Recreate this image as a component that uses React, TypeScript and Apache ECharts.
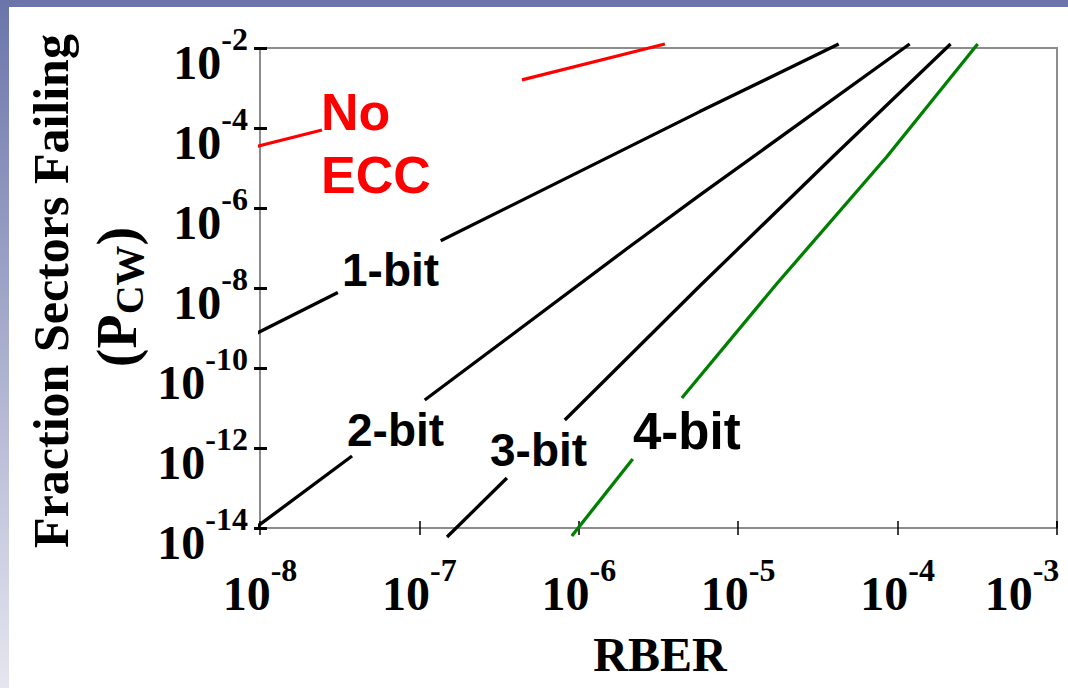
import React, { useEffect, useRef } from "react";
import * as echarts from "echarts";

// RBER (x) vs fraction of sectors failing (y)
const xTickValues = [1e-8, 1e-7, 1e-6, 1e-5, 1e-4, 1e-3];
const yTickValues = [1e-14, 1e-12, 1e-10, 1e-8, 1e-6, 1e-4, 1e-2];

// each curve is drawn in two pieces, broken where its label sits
const noEccLow = [[9.16e-9, 3.33e-5], [2.45e-8, 8.9e-5]];
const noEccHigh = [[4.4e-7, 1.6e-3], [3.47e-6, 1.26e-2]];

const oneBitLow = [[9.04e-9, 6.6e-10], [3.08e-8, 7.76e-9]];
const oneBitHigh = [[1.36e-7, 1.51e-7], [5.74e-6, 2.57e-4], [4.27e-5, 1.26e-2]];

const twoBitLow = [[9.33e-9, 1.0e-14], [3.78e-8, 6.31e-13]];
const twoBitHigh = [[1.08e-7, 1.58e-11], [2.03e-6, 1.0e-7], [5.74e-6, 2.09e-6], [1.19e-4, 1.26e-2]];

const threeBitLow = [[1.49e-7, 5.96e-15], [3.54e-7, 1.78e-13]];
const threeBitHigh = [[8.17e-7, 5.01e-12], [5.74e-6, 1.12e-8], [3.91e-5, 1.88e-5], [2.15e-4, 1.26e-2]];

const fourBitLow = [[9.04e-7, 6.31e-15], [2.18e-6, 5.31e-13]];
const fourBitHigh = [[4.43e-6, 1.78e-11], [1.74e-5, 1.26e-8], [8.53e-5, 1.88e-5], [3.18e-4, 1.26e-2]];

const curves = [
  { name: "No ECC", color: "#ff0000", pieces: [noEccLow, noEccHigh] },
  { name: "1-bit", color: "#000000", pieces: [oneBitLow, oneBitHigh] },
  { name: "2-bit", color: "#000000", pieces: [twoBitLow, twoBitHigh] },
  { name: "3-bit", color: "#000000", pieces: [threeBitLow, threeBitHigh] },
  { name: "4-bit", color: "#008000", pieces: [fourBitLow, fourBitHigh] },
];

const SERIF = "'Liberation Serif', 'Times New Roman', serif";
const SANS = "'Liberation Sans', Arial, sans-serif";

const expOf = (v: number) => Math.round(Math.log10(v));

const richLabel = {
  b: { fontFamily: SERIF, fontWeight: "bold", fontSize: 48, lineHeight: 63, verticalAlign: "bottom", color: "#000" },
  s: { fontFamily: SERIF, fontWeight: "bold", fontSize: 32, lineHeight: 32, verticalAlign: "top", color: "#000" },
  p: { width: 70, fontSize: 10, lineHeight: 10 },
};

export default function App() {
  const ref = useRef<HTMLDivElement>(null);
  useEffect(() => {
    if (!ref.current) return;
    const chart = echarts.init(ref.current, undefined, { renderer: "svg" });
    const series: any[] = [];
    curves.forEach((c) => {
      c.pieces.forEach((piece, i) => {
        series.push({
          name: c.name,
          id: c.name + "-" + i,
          type: "line",
          xAxisIndex: 0,
          yAxisIndex: 0,
          data: piece,
          showSymbol: false,
          symbol: "none",
          clip: false,
          smooth: false,
          lineStyle: { color: c.color, width: 3.3 },
          z: 5,
        });
      });
    });
    const lastX = xTickValues[xTickValues.length - 1];
    const baseX = {
      type: "log",
      logBase: 10,
      min: xTickValues[0],
      max: lastX,
      interval: 1,
      position: "bottom",
      splitLine: { show: false },
      minorTick: { show: false },
    };
    const baseY = {
      type: "log",
      logBase: 10,
      min: yTickValues[0],
      max: yTickValues[yTickValues.length - 1],
      interval: 2,
      position: "left",
      splitLine: { show: false },
      minorTick: { show: false },
    };
    chart.setOption({
      animation: false,
      backgroundColor: "#ffffff",
      grid: {
        left: 260,
        right: 11,
        top: 48,
        bottom: 160,
        show: true,
        borderColor: "#8c8c8c",
        borderWidth: 2,
        backgroundColor: "transparent",
        containLabel: false,
        outerBoundsMode: "none",
      },
      xAxis: [
        {
          ...baseX,
          axisLine: { show: true, lineStyle: { color: "#8c8c8c", width: 2 } },
          axisTick: { show: true, inside: false, length: 7, lineStyle: { color: "#000", width: 1.5 } },
          axisLabel: {
            show: true,
            margin: 26,
            showMinLabel: true,
            showMaxLabel: true,
            hideOverlap: false,
            formatter: (v: number) =>
              v >= lastX * 0.99 ? `{b|10}{s|${expOf(v)}}{p| }` : `{b|10}{s|${expOf(v)}}`,
            rich: richLabel,
          },
        },
        {
          ...baseX,
          axisLine: { show: false },
          axisTick: { show: true, inside: true, length: 7, lineStyle: { color: "#000", width: 1.5 } },
          axisLabel: { show: false },
        },
      ],
      yAxis: [
        {
          ...baseY,
          axisLine: { show: true, lineStyle: { color: "#8c8c8c", width: 2 } },
          axisTick: { show: true, inside: false, length: 6, lineStyle: { color: "#000", width: 3 } },
          axisLabel: {
            show: true,
            margin: 12,
            align: "right",
            verticalAlign: "middle",
            padding: [13, 0, 0, 0],
            showMinLabel: true,
            showMaxLabel: true,
            hideOverlap: false,
            formatter: (v: number) => `{b|10}{s|${expOf(v)}}`,
            rich: richLabel,
          },
        },
        {
          ...baseY,
          axisLine: { show: false },
          axisTick: { show: true, inside: true, length: 7, lineStyle: { color: "#000", width: 3 } },
          axisLabel: { show: false },
        },
      ],
      series,
      graphic: [
        {
          type: "rect",
          left: 0,
          top: 0,
          shape: { width: 1068, height: 7 },
          style: { fill: "#6b75aa" },
          silent: true,
          z: 100,
        },
        {
          type: "rect",
          left: 0,
          top: 0,
          shape: { width: 9, height: 688 },
          style: {
            fill: new echarts.graphic.LinearGradient(0, 0, 0, 1, [
              { offset: 0, color: "#6b75aa" },
              { offset: 1, color: "#e6e6f0" },
            ]),
          },
          silent: true,
          z: 100,
        },
        {
          type: "text",
          x: 660,
          y: 654,
          style: {
            text: "RBER",
            fontFamily: SERIF,
            fontWeight: "bold",
            fontSize: 48,
            fill: "#000",
            align: "center",
            verticalAlign: "middle",
          },
        },
        {
          type: "text",
          x: 51,
          y: 291,
          rotation: Math.PI / 2,
          style: {
            text: "Fraction Sectors Failing",
            fontFamily: SERIF,
            fontWeight: "bold",
            fontSize: 50,
            fill: "#000",
            align: "center",
            verticalAlign: "middle",
          },
        },
        {
          type: "text",
          x: 119,
          y: 297,
          rotation: Math.PI / 2,
          style: {
            text: "{a|(P}{c|CW}{a|)}",
            align: "center",
            verticalAlign: "middle",
            rich: {
              a: { fontFamily: SERIF, fontWeight: "bold", fontSize: 56, lineHeight: 60, verticalAlign: "top", fill: "#000" },
              c: { fontFamily: SERIF, fontWeight: "bold", fontSize: 40, lineHeight: 48, verticalAlign: "bottom", fill: "#000" },
            },
          },
        },
        {
          type: "text",
          left: 321,
          top: 80,
          style: {
            text: "No\nECC",
            fontFamily: SANS,
            fontWeight: "bold",
            fontSize: 52,
            lineHeight: 63,
            fill: "#ff0000",
            align: "left",
            verticalAlign: "top",
          },
        },
        {
          type: "text",
          x: 342,
          y: 270,
          style: { text: "1-bit", fontFamily: SANS, fontWeight: "bold", fontSize: 46, fill: "#000", align: "left", verticalAlign: "middle" },
        },
        {
          type: "text",
          x: 347,
          y: 430,
          style: { text: "2-bit", fontFamily: SANS, fontWeight: "bold", fontSize: 46, fill: "#000", align: "left", verticalAlign: "middle" },
        },
        {
          type: "text",
          x: 490,
          y: 450,
          style: { text: "3-bit", fontFamily: SANS, fontWeight: "bold", fontSize: 46, fill: "#000", align: "left", verticalAlign: "middle" },
        },
        {
          type: "text",
          x: 633,
          y: 431,
          style: { text: "4-bit", fontFamily: SANS, fontWeight: "bold", fontSize: 51, fill: "#000", align: "left", verticalAlign: "middle" },
        },
      ],
    });
    return () => chart.dispose();
  }, []);
  return (
    <div
      ref={ref}
      style={{ position: "absolute", left: 0, top: 0, width: 1068, height: 688 }}
    />
  );
}
